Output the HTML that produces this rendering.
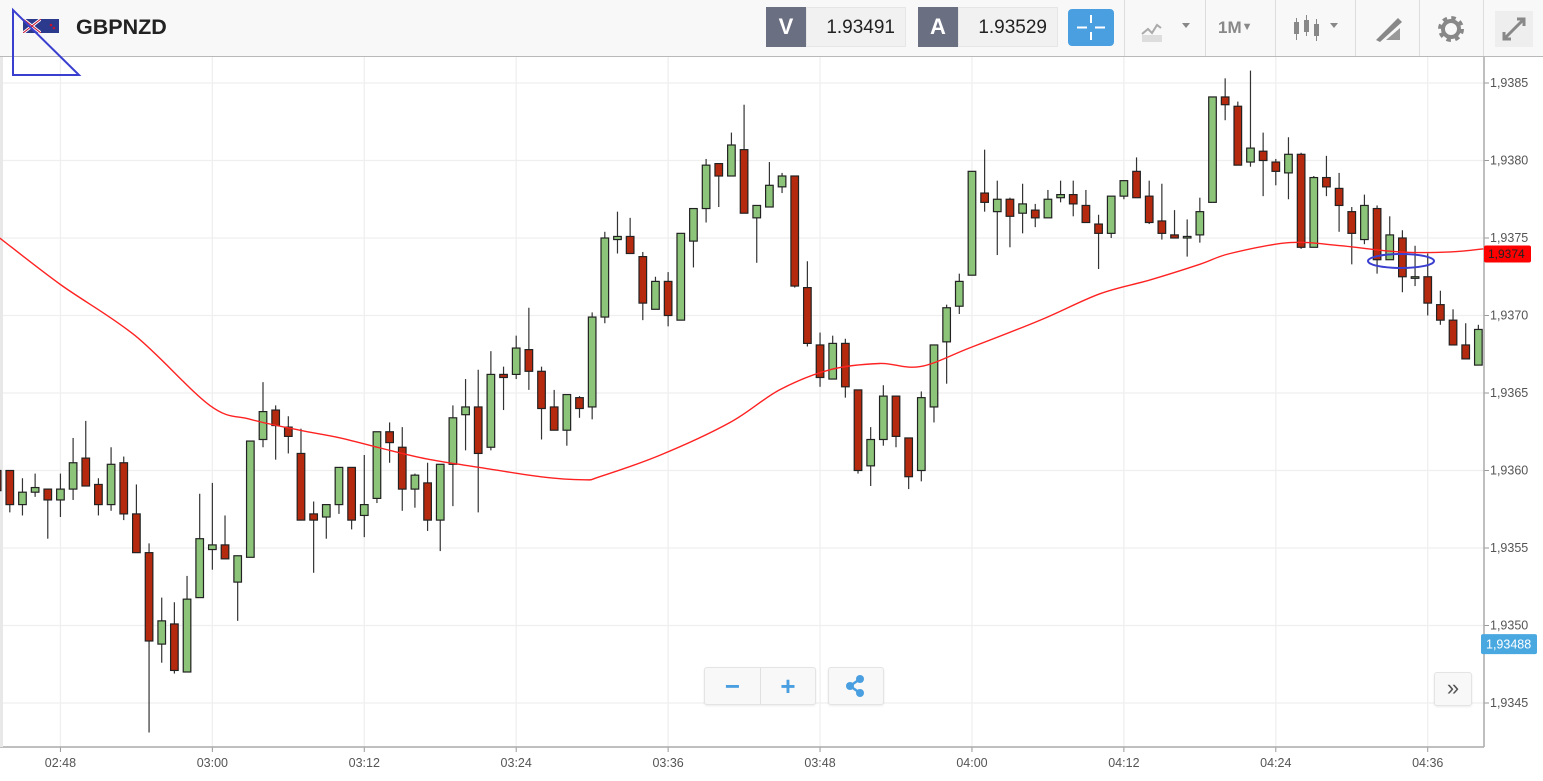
<!DOCTYPE html>
<html><head><meta charset="utf-8"><style>
body{margin:0;width:1543px;height:781px;overflow:hidden;background:#fff;font-family:"Liberation Sans",sans-serif;}
#top{position:absolute;left:0;top:0;width:1543px;height:56px;background:#f8f8f8;border-bottom:1px solid #b9b9b9;}
.box{position:absolute;top:7px;height:40px;}
.lab{background:#6b6f82;color:#fff;font-weight:bold;font-size:22px;text-align:center;line-height:40px;width:40px;}
.val{background:#f1f1f1;color:#222;font-size:19px;line-height:40px;text-align:right;width:100px;padding-right:10px;border:1px solid #e6e6e6;box-sizing:border-box;}
.sep{position:absolute;top:0;width:1px;height:56px;background:#ddd;}
.tool{position:absolute;top:12px;color:#888;font-size:17px;font-weight:bold;}
.btn{position:absolute;background:#f8f8f8;border:1px solid #e4e4e4;border-radius:3px;box-shadow:0 1px 2px rgba(0,0,0,.08);color:#4a9fe0;text-align:center;}
</style></head><body>
<div id="top">
 <svg style="position:absolute;left:23px;top:19px" width="36" height="14"><rect width="18" height="14" fill="#2b3a8c"/><path d="M0 0L18 14M18 0L0 14" stroke="#fff" stroke-width="3"/><path d="M0 0L18 14M18 0L0 14" stroke="#c8102e" stroke-width="1"/><rect x="18" width="18" height="14" fill="#2b3a8c"/><circle cx="28" cy="6" r="1.3" fill="#c8102e"/><circle cx="31" cy="9" r="1.3" fill="#c8102e"/></svg>
 <div style="position:absolute;left:76px;top:15px;font-size:21.5px;font-weight:bold;color:#222">GBPNZD</div>
 <div class="box lab" style="left:766px">V</div>
 <div class="box val" style="left:806px">1.93491</div>
 <div class="box lab" style="left:918px">A</div>
 <div class="box val" style="left:958px">1.93529</div>
 <div style="position:absolute;left:1068px;top:9px;width:46px;height:37px;background:#4a9fe0;border-radius:4px"><svg width="46" height="37"><path d="M9 18.5h10M27 18.5h10M23 6v8M23 23v8" stroke="#fff" stroke-width="2"/></svg></div>
 <div class="sep" style="left:1124px"></div><div class="sep" style="left:1205px"></div><div class="sep" style="left:1275px"></div><div class="sep" style="left:1355px"></div><div class="sep" style="left:1419px"></div><div class="sep" style="left:1483px"></div>
 <svg style="position:absolute;left:1140px;top:14px" width="55" height="30"><path d="M2 20l6-5 4 4 5-8 4 3" stroke="#aaa" stroke-width="2" fill="none"/><rect x="2" y="21" width="20" height="7" fill="#ddd"/><path d="M42 9l4 5 4-5z" fill="#888"/></svg>
 <div class="tool" style="left:1218px;top:18px">1M<span style="font-size:11px;vertical-align:3px">▼</span></div>
 <svg style="position:absolute;left:1290px;top:12px" width="55" height="34"><g fill="#888"><rect x="4" y="10" width="5" height="12"/><rect x="6" y="6" width="1" height="22"/><rect x="14" y="8" width="5" height="12"/><rect x="16" y="3" width="1" height="21"/><rect x="24" y="12" width="5" height="12"/><rect x="26" y="7" width="1" height="22"/></g><path d="M40 11l4 5 4-5z" fill="#888"/></svg>
 <svg style="position:absolute;left:1372px;top:14px" width="34" height="30"><path d="M4 26L26 4l4 4L8 28z" fill="#888"/><path d="M14 26h14V14z" fill="#999"/></svg>
 <svg style="position:absolute;left:1435px;top:13px" width="32" height="32"><circle cx="16" cy="16" r="10" fill="none" stroke="#888" stroke-width="6" stroke-dasharray="4 3.85"/><circle cx="16" cy="16" r="8" fill="none" stroke="#888" stroke-width="4"/></svg>
 <div style="position:absolute;left:1495px;top:11px;width:38px;height:36px;background:#eee"><svg width="38" height="36"><path d="M9 28L29 8M22 8h7v7M9 21v7h7" stroke="#888" stroke-width="3" fill="none"/></svg></div>
</div>
<svg id="chart" style="position:absolute;left:0;top:0" width="1543" height="781"></svg>
<div class="btn" style="left:704px;top:667px;width:110px;height:36px"><span style="position:absolute;left:0;width:55px;line-height:36px;font-size:26px;font-weight:bold">−</span><span style="position:absolute;left:55px;top:0;width:1px;height:36px;background:#e0e0e0"></span><span style="position:absolute;left:56px;width:54px;line-height:36px;font-size:26px;font-weight:bold">+</span></div>
<div class="btn" style="left:828px;top:667px;width:54px;height:36px"><svg width="54" height="36"><circle cx="21" cy="18" r="4" fill="#4a9fe0"/><circle cx="31" cy="11" r="4" fill="#4a9fe0"/><circle cx="31" cy="25" r="4" fill="#4a9fe0"/><path d="M21 18L31 11M21 18L31 25" stroke="#4a9fe0" stroke-width="2.5"/></svg></div>
<div class="btn" style="left:1434px;top:672px;width:36px;height:32px;color:#555;font-size:22px;line-height:30px">»</div>
<script>
const startIndex = -1;
const opens = [1.93600,1.93600,1.93578,1.93586,1.93588,1.93581,1.93588,1.93608,1.93591,1.93578,1.93605,1.93572,1.93547,1.93488,1.93501,1.93470,1.93518,1.93549,1.93552,1.93528,1.93544,1.93620,1.93639,1.93628,1.93611,1.93572,1.93570,1.93578,1.93602,1.93571,1.93582,1.93625,1.93615,1.93588,1.93592,1.93568,1.93604,1.93636,1.93641,1.93615,1.93662,1.93662,1.93678,1.93664,1.93641,1.93626,1.93647,1.93641,1.93699,1.93749,1.93751,1.93738,1.93704,1.93722,1.93697,1.93748,1.93769,1.93798,1.93790,1.93807,1.93763,1.93770,1.93783,1.93790,1.93718,1.93681,1.93659,1.93682,1.93652,1.93603,1.93620,1.93648,1.93621,1.93600,1.93641,1.93683,1.93706,1.93726,1.93779,1.93767,1.93775,1.93766,1.93768,1.93763,1.93776,1.93778,1.93771,1.93759,1.93753,1.93777,1.93793,1.93777,1.93761,1.93752,1.93750,1.93752,1.93773,1.93841,1.93835,1.93799,1.93806,1.93799,1.93792,1.93804,1.93744,1.93789,1.93782,1.93767,1.93749,1.93769,1.93736,1.93750,1.93724,1.93725,1.93707,1.93697,1.93681,1.93668];
const highs = [1.93602,1.93600,1.93595,1.93598,1.93588,1.93598,1.93621,1.93632,1.93595,1.93615,1.93609,1.93591,1.93553,1.93518,1.93515,1.93532,1.93585,1.93592,1.93571,1.93545,1.93619,1.93657,1.93642,1.93635,1.93627,1.93580,1.93578,1.93602,1.93602,1.93610,1.93625,1.93631,1.93628,1.93598,1.93605,1.93604,1.93642,1.93659,1.93665,1.93677,1.93667,1.93687,1.93705,1.93667,1.93652,1.93649,1.93648,1.93702,1.93754,1.93767,1.93763,1.93741,1.93725,1.93728,1.93753,1.93769,1.93801,1.93798,1.93818,1.93836,1.93771,1.93799,1.93792,1.93790,1.93735,1.93689,1.93687,1.93685,1.93652,1.93628,1.93655,1.93648,1.93621,1.93651,1.93681,1.93707,1.93727,1.93793,1.93807,1.93787,1.93776,1.93785,1.93772,1.93781,1.93787,1.93787,1.93781,1.93765,1.93777,1.93787,1.93802,1.93787,1.93785,1.93768,1.93762,1.93776,1.93841,1.93853,1.93838,1.93858,1.93818,1.93801,1.93815,1.93805,1.93790,1.93803,1.93792,1.93770,1.93778,1.93771,1.93764,1.93755,1.93745,1.93740,1.93716,1.93704,1.93695,1.93694];
const lows = [1.93584,1.93573,1.93571,1.93583,1.93556,1.93570,1.93581,1.93590,1.93571,1.93574,1.93568,1.93547,1.93431,1.93476,1.93469,1.93470,1.93518,1.93536,1.93543,1.93503,1.93544,1.93615,1.93607,1.93611,1.93568,1.93534,1.93556,1.93572,1.93562,1.93557,1.93579,1.93605,1.93574,1.93576,1.93561,1.93548,1.93577,1.93613,1.93573,1.93613,1.93639,1.93659,1.93652,1.93620,1.93626,1.93616,1.93634,1.93633,1.93695,1.93740,1.93740,1.93697,1.93704,1.93693,1.93697,1.93731,1.93760,1.93770,1.93790,1.93766,1.93734,1.93770,1.93779,1.93718,1.93680,1.93654,1.93659,1.93647,1.93598,1.93590,1.93616,1.93615,1.93588,1.93593,1.93631,1.93656,1.93701,1.93726,1.93767,1.93739,1.93744,1.93753,1.93757,1.93763,1.93773,1.93764,1.93760,1.93730,1.93750,1.93775,1.93776,1.93759,1.93749,1.93750,1.93738,1.93747,1.93773,1.93826,1.93797,1.93796,1.93777,1.93784,1.93775,1.93743,1.93744,1.93777,1.93754,1.93733,1.93746,1.93727,1.93736,1.93715,1.93719,1.93700,1.93694,1.93681,1.93672,1.93668];
const closes = [1.93587,1.93578,1.93586,1.93589,1.93581,1.93588,1.93605,1.93590,1.93578,1.93604,1.93572,1.93547,1.93490,1.93503,1.93471,1.93517,1.93556,1.93552,1.93543,1.93545,1.93619,1.93638,1.93629,1.93622,1.93568,1.93568,1.93578,1.93602,1.93568,1.93578,1.93625,1.93618,1.93588,1.93597,1.93568,1.93604,1.93634,1.93641,1.93611,1.93662,1.93660,1.93679,1.93664,1.93640,1.93626,1.93649,1.93640,1.93699,1.93750,1.93751,1.93740,1.93708,1.93722,1.93700,1.93753,1.93769,1.93797,1.93790,1.93810,1.93766,1.93771,1.93784,1.93790,1.93719,1.93682,1.93660,1.93682,1.93654,1.93600,1.93620,1.93648,1.93622,1.93596,1.93647,1.93681,1.93705,1.93722,1.93793,1.93773,1.93775,1.93764,1.93772,1.93763,1.93775,1.93778,1.93772,1.93760,1.93753,1.93777,1.93787,1.93776,1.93760,1.93753,1.93750,1.93751,1.93767,1.93841,1.93836,1.93797,1.93808,1.93800,1.93793,1.93804,1.93744,1.93789,1.93783,1.93771,1.93753,1.93771,1.93736,1.93752,1.93725,1.93725,1.93708,1.93697,1.93681,1.93672,1.93691];
const maIdx = [-0.8,4,9.9,15.8,19,22.9,26.1,30,33.2,37.1,41.9,45.4,46.6,51.4,56.9,60.8,64.8,68.7,71.9,75.8,81.4,86.1,90.1,94,96.4,101.1,105.1,109.8,113.8,116.4];
const maVals = [1.93750,1.93720,1.93687,1.93642,1.93633,1.93626,1.93621,1.93613,1.93607,1.93602,1.93596,1.93594,1.93596,1.93610,1.93631,1.93652,1.93665,1.93669,1.93667,1.93679,1.93697,1.93714,1.93723,1.93733,1.93740,1.93747,1.93745,1.93741,1.93741,1.93743];
const priceTicks = [1.9385,1.9380,1.9375,1.9370,1.9365,1.9360,1.9355,1.9350,1.9345];
const timeTickIdx = [4,16,28,40,52,64,76,88,100,112];
const timeTickLabels = ["02:48","03:00","03:12","03:24","03:36","03:48","04:00","04:12","04:24","04:36"];
const maLast = 1.9374;
const bidPrice = 1.93488;

const svg = document.getElementById('chart');
const NS = 'http://www.w3.org/2000/svg';
const plotL = 0, plotR = 1484, plotT = 57, plotB = 747;
function xS(i){ return 9.8 + 12.66 * i; }
function yS(p){ return 83 + (1.9385 - p) * 155000; }
function mk(tag, attrs){ const e = document.createElementNS(NS, tag); for (const k in attrs) e.setAttribute(k, attrs[k]); svg.appendChild(e); return e; }

const defs = mk('defs', {});
const clip = document.createElementNS(NS,'clipPath'); clip.setAttribute('id','pc'); defs.appendChild(clip);
const cr = document.createElementNS(NS,'rect'); cr.setAttribute('x',plotL); cr.setAttribute('y',plotT); cr.setAttribute('width',plotR-plotL); cr.setAttribute('height',plotB-plotT); clip.appendChild(cr);

priceTicks.forEach((p, k) => {
  const y = yS(p);
  const g = mk('line', {x1:plotL, x2:plotR, y1:y, y2:y, stroke:'#efefef', 'stroke-width':1.3});
  
  
  mk('line', {x1:plotR, x2:plotR+5, y1:y, y2:y, stroke:'#999'});
  const t = mk('text', {x:plotR+6, y:y+4, 'font-size':12.5, fill:'#555', 'font-family':'Liberation Sans, sans-serif'});
  t.textContent = p.toFixed(4).replace('.', ',');
  
  
});
timeTickIdx.forEach((idx, k) => {
  const x = xS(idx);
  const g = mk('line', {x1:x, x2:x, y1:plotT, y2:plotB, stroke:'#efefef', 'stroke-width':1.3});
  
  
  mk('line', {x1:x, x2:x, y1:plotB, y2:plotB+5, stroke:'#999'});
  const t = mk('text', {x:x, y:767, 'font-size':12.5, fill:'#555', 'text-anchor':'middle', 'font-family':'Liberation Sans, sans-serif'});
  t.textContent = timeTickLabels[k];
  
  
});
mk('line', {x1:plotL, x2:plotR, y1:plotB, y2:plotB, stroke:'#aaa', 'stroke-width':1.5});
mk('line', {x1:plotR, x2:plotR, y1:plotT, y2:plotB, stroke:'#aaa', 'stroke-width':1.5});
mk('rect', {x:0, y:57, width:3, height:690, fill:'#e8e8e8'});

const cg = mk('g', {'clip-path':'url(#pc)'});


for (let k = 0; k < opens.length; k++) {
  const i = startIndex + k, x = xS(i);
  const o = opens[k], c = closes[k], h = highs[k], l = lows[k];
  const up = c >= o;
  const w = document.createElementNS(NS, 'line');
  w.setAttribute('x1', x); w.setAttribute('x2', x);
  w.setAttribute('y1', yS(h)); w.setAttribute('y2', yS(l));
  w.setAttribute('stroke', '#333'); w.setAttribute('stroke-width', 1.2);
  
  
  cg.appendChild(w);
  const yt = yS(Math.max(o, c)), yb = yS(Math.min(o, c));
  const r = document.createElementNS(NS, 'rect');
  r.setAttribute('x', x - 3.8); r.setAttribute('width', 7.6);
  r.setAttribute('y', yt); r.setAttribute('height', Math.max(yb - yt, 1.5));
  r.setAttribute('fill', up ? '#8cc47a' : '#b52a0e');
  r.setAttribute('stroke', '#222'); r.setAttribute('stroke-width', 1.2);
  
  
  cg.appendChild(r);
}
const pts = maIdx.map((idx, k) => [xS(idx), yS(maVals[k])]);
let d = 'M' + pts[0][0].toFixed(1) + ' ' + pts[0][1].toFixed(1);
for (let k = 0; k < pts.length - 1; k++) {
  const p0 = pts[Math.max(k-1,0)], p1 = pts[k], p2 = pts[k+1], p3 = pts[Math.min(k+2, pts.length-1)];
  const c1x = p1[0] + (p2[0]-p0[0])/6, c1y = p1[1] + (p2[1]-p0[1])/6;
  const c2x = p2[0] - (p3[0]-p1[0])/6, c2y = p2[1] - (p3[1]-p1[1])/6;
  d += 'C' + c1x.toFixed(1) + ' ' + c1y.toFixed(1) + ' ' + c2x.toFixed(1) + ' ' + c2y.toFixed(1) + ' ' + p2[0].toFixed(1) + ' ' + p2[1].toFixed(1);
}
const ma = document.createElementNS(NS, 'path');
ma.setAttribute('d', d); ma.setAttribute('fill', 'none'); ma.setAttribute('stroke', '#f22'); ma.setAttribute('stroke-width', 1.4);


cg.appendChild(ma);

const el = mk('ellipse', {cx:1401, cy:261, rx:33, ry:7, fill:'none', stroke:'#3a3fcf', 'stroke-width':2});


const tri = mk('path', {d:'M13 10L13 75L79 75Z', fill:'none', stroke:'#3a3fcf', 'stroke-width':2});



const maTag = mk('rect', {x:1484, y:yS(maLast)-8, width:47, height:17, fill:'#f00', rx:2});


const mt = mk('text', {x:1488, y:yS(maLast)+4.5, 'font-size':12, fill:'#222', 'font-family':'Liberation Sans, sans-serif'});
mt.textContent = maLast.toFixed(4).replace('.', ',');


const bTag = mk('rect', {x:1481, y:yS(bidPrice)-10, width:56, height:20, fill:'#4aa8e0', rx:2});


const bt = mk('text', {x:1486, y:yS(bidPrice)+4.5, 'font-size':12.5, fill:'#fff', 'font-family':'Liberation Sans, sans-serif'});
bt.textContent = bidPrice.toFixed(5).replace('.', ',');


</script>
</body></html>
